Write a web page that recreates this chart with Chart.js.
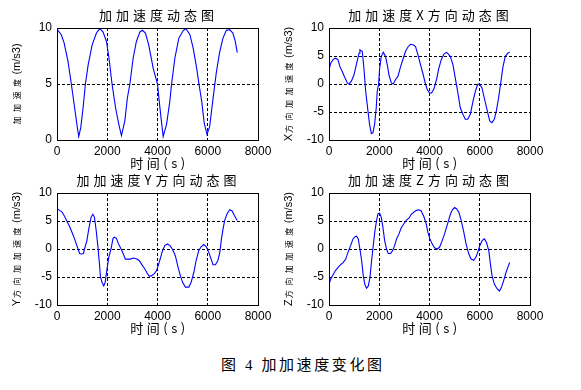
<!DOCTYPE html>
<html>
<head>
<meta charset="utf-8">
<script src="https://cdn.jsdelivr.net/npm/chart.js@4.4.1/dist/chart.umd.min.js"></script>
<style>
  html, body { margin: 0; padding: 0; background: #fff; }
  #page { position: relative; width: 581px; height: 390px; overflow: hidden; background: #fff; }
  .box { position: absolute; width: 290px; height: 170px; }
  #caption { position: absolute; left: 221px; top: 356px; font-size: 15px; line-height: 18px;
             font-family: "Liberation Serif", "Noto Sans CJK SC"; letter-spacing: 2.6px; white-space: nowrap; color: #000; }
</style>
</head>
<body>
<div id="page">
  <div class="box" style="left:0;top:0"><canvas id="cTotal" width="290" height="170"></canvas></div>
  <div class="box" style="left:272px;top:0"><canvas id="cX" width="290" height="170"></canvas></div>
  <div class="box" style="left:0;top:165px"><canvas id="cY" width="290" height="170"></canvas></div>
  <div class="box" style="left:272px;top:165px"><canvas id="cZ" width="290" height="170"></canvas></div>
  <div id="caption">图 4 加加速度变化图</div>
</div>
<script>
//Data (time in s, jerk in m/s3)
const tTotal = [0,170,280,440,570,700,810,865,945,1040,1130,1240,1400,1570,1700,1830,1970,2070,2190,2330,2460,2565,2700,2800,2900,3030,3160,3300,3400,3520,3650,3830,4000,4090,4225,4360,4490,4560,4690,4850,5020,5130,5290,5420,5560,5650,5760,5860,5970,6075,6205,6340,6470,6605,6740,6870,7000,7095,7175];
const vTotal = [9.9,9.4,8.7,7.0,5.0,2.9,1.1,0.3,1.1,2.9,5.0,6.7,8.5,9.55,9.95,9.65,8.8,7.3,5.0,2.9,1.4,0.4,1.7,3.75,5.0,7.3,8.8,9.65,9.8,9.55,8.5,6.4,5.0,3.0,0.3,1.4,3.45,5.0,7.3,9.1,9.75,9.95,9.4,8.2,6.4,5.0,3.45,1.5,0.5,1.2,3.6,6.0,7.8,9.1,9.8,9.85,9.55,8.8,7.8];

const tX = [0,65,170,265,360,435,530,625,730,795,890,995,1100,1195,1230,1325,1390,1460,1550,1615,1685,1750,1815,1880,1920,1975,2015,2080,2160,2250,2320,2385,2480,2555,2650,2745,2850,2955,3050,3155,3245,3350,3445,3540,3645,3750,3840,3910,4000,4080,4175,4280,4370,4465,4570,4665,4720,4830,4935,5025,5120,5225,5330,5425,5520,5625,5730,5825,5915,5995,6090,6180,6285,6395,6485,6580,6660,6750,6845,6925,7015,7110,7190];
const vX = [2.5,3.7,4.4,4.6,4.3,3.1,2.2,1.2,0.2,0,0.5,1.65,3.7,5.5,6.1,5.8,2.8,-1.3,-4.8,-7.2,-8.85,-8.7,-7.2,-4.25,-1.3,0,2.8,4.9,5.66,4.9,3.4,1.65,0.2,0,0.8,1.4,3.1,4.6,5.9,6.7,7.1,7.0,6.7,5.2,3.4,1.65,0,-1.0,-1.6,-1.6,-0.9,0.8,2.8,4.3,5.3,5.65,5.5,4.9,3.4,1.1,-1.3,-4.25,-5.4,-6.3,-6.3,-5.4,-3.1,-1.3,-0.1,0,-0.7,-2.5,-4.5,-6.6,-6.9,-6.3,-4.8,-2.5,0.5,3.1,4.9,5.5,5.65];

const tY = [0,105,200,305,410,500,595,700,790,900,965,1055,1095,1190,1265,1360,1425,1490,1560,1625,1690,1730,1795,1860,1915,1980,2060,2150,2230,2285,2365,2440,2550,2640,2720,2810,2915,3050,3180,3275,3365,3470,3575,3670,3760,3870,3960,4025,4105,4200,4290,4395,4500,4600,4710,4805,4910,5005,5110,5245,5335,5445,5535,5640,5735,5840,5945,6040,6135,6210,6305,6400,6480,6545,6610,6675,6770,6875,6970,7060,7170];
const vY = [7.2,6.9,6.6,5.8,4.8,4.0,3.0,1.8,0.6,-0.8,-0.9,-0.8,0,1.5,3.6,5.7,6.2,5.7,3.3,0.6,-2.7,-5.0,-6.0,-6.6,-6.0,-3.9,-1.5,0,1.9,2.1,1.9,1.0,0,-0.9,-1.8,-1.8,-1.8,-1.6,-1.8,-2.1,-2.7,-3.4,-4.2,-4.85,-4.8,-4.4,-3.9,-3.0,-1.8,-0.3,0.6,0.9,0.6,-0.1,-1.2,-3.0,-4.8,-6.0,-6.8,-6.8,-6.0,-4.2,-2.1,-0.3,0.4,0.8,0.4,-0.6,-1.8,-2.8,-2.8,-2.1,-0.6,1.8,3.6,5.1,6.3,7.0,6.8,6.0,5.1];

const tZ = [0,65,170,265,360,465,570,665,755,860,955,1035,1100,1165,1230,1300,1365,1430,1495,1565,1630,1695,1760,1830,1895,1950,2015,2080,2145,2215,2290,2360,2450,2530,2610,2690,2785,2875,2980,3075,3180,3275,3380,3485,3580,3670,3775,3870,3935,4015,4110,4200,4305,4400,4505,4600,4680,4760,4830,4910,5000,5075,5165,5260,5365,5455,5565,5655,5760,5855,5935,6000,6095,6185,6265,6360,6425,6490,6585,6690,6780,6860,6955,7045,7125,7190];
const vZ = [-6.3,-5.4,-4.5,-3.8,-3.3,-2.8,-2.4,-1.8,-0.6,0.6,1.8,2.2,2.3,1.8,0,-2.1,-4.8,-6.4,-7.0,-6.6,-5.1,-2.1,0.6,3.3,5.1,6.3,6.4,5.7,3.9,1.5,0,-0.8,-0.8,-0.3,0.6,1.8,2.7,3.8,4.5,5.1,5.5,6.2,6.6,6.9,7.0,6.8,5.8,4.5,3.0,1.8,0.9,0.2,0,0.3,1.5,2.7,3.9,5.1,6.2,7.0,7.4,7.2,6.6,5.1,3.0,0.9,-0.9,-1.8,-2.0,-1.4,-0.4,0.6,1.5,1.8,1.2,-0.3,-2.7,-4.8,-6.3,-7.1,-7.5,-6.9,-5.6,-4.2,-3.2,-2.4];

//Axis ticks, same for every panel on x
const xTicks = [0, 2000, 4000, 6000, 8000];
const yTicksTotal = [0, 5, 10];
const yTicksAxis = [-10, -5, 0, 5, 10];

//Panel texts
const titles = ['加加速度动态图', '加加速度X方向动态图', '加加速度Y方向动态图', '加加速度Z方向动态图'];
const yPrefix = ['', 'X', 'Y', 'Z'];
const xLabel = '时间(s)';

//MATLAB-ish look: closed box, centered title, x label and a rotated y label with tiny CJK glyphs
const matlabLook = {
  id: 'matlabLook',
  afterDraw(chart, args, opts) {
    const {ctx, chartArea: a} = chart;
    ctx.save();
    ctx.setLineDash([]);
    ctx.strokeStyle = '#000';
    ctx.lineWidth = 1;
    ctx.strokeRect(Math.round(a.left) + 0.5, Math.round(a.top) + 0.5, Math.round(a.right - a.left), Math.round(a.bottom - a.top));

    const cx = (a.left + a.right) / 2;
    ctx.fillStyle = '#000';
    ctx.textBaseline = 'middle';
    ctx.textAlign = 'center';
    ctx.font = '13px "Noto Sans CJK SC"';
    ctx.letterSpacing = '4px';
    ctx.fillText(opts.title, cx + 1, 15);
    ctx.letterSpacing = '3.5px';
    ctx.fillText(xLabel, cx + 2, 163);

    //rotated y label, built from pieces of different sizes
    const parts = [];
    if (opts.prefix) parts.push({text: opts.prefix, font: '11px "Liberation Sans"', ls: '1px'});
    parts.push({text: (opts.prefix ? '方向' : '') + '加加速度', font: '8px "Noto Sans CJK SC"', ls: '4.5px'});
    parts.push({text: '(m/s3)', font: '11px "Liberation Sans"', ls: '0px'});
    let total = 0;
    parts.forEach(p => {
      ctx.font = p.font; ctx.letterSpacing = p.ls;
      p.w = ctx.measureText(p.text).width;
      total += p.w;
    });
    ctx.translate(17, (a.top + a.bottom) / 2);
    ctx.rotate(-Math.PI / 2);
    ctx.textAlign = 'left';
    let x = -total / 2;
    parts.forEach(p => {
      ctx.font = p.font; ctx.letterSpacing = p.ls;
      ctx.fillText(p.text, x, 0);
      x += p.w;
    });
    ctx.restore();
  }
};

//edges are covered by the box, inner lines are dashed black
const gridColor = c => (c.index === 0 || c.index === c.scale.ticks.length - 1) ? 'rgba(0,0,0,0)' : '#000';
const tickFont = {family: '"Liberation Sans"', size: 12};

function makeChart(id, t, v, yTicks, title, prefix) {
  return new Chart(document.getElementById(id), {
    type: 'line',
    data: {
      datasets: [{
        data: t.map((x, i) => ({x: x, y: v[i]})),
        borderColor: '#0000ff',
        borderWidth: 1.1,
        pointRadius: 0,
        tension: 0,
        fill: false
      }]
    },
    options: {
      responsive: false,
      animation: false,
      layout: {padding: {top: 28, right: 32, left: 0, bottom: 0}},
      plugins: {
        legend: {display: false},
        tooltip: {enabled: false},
        matlabLook: {title: title, prefix: prefix}
      },
      scales: {
        x: {
          type: 'linear',
          min: xTicks[0],
          max: xTicks[xTicks.length - 1],
          afterBuildTicks: s => { s.ticks = xTicks.map(value => ({value})); },
          afterFit: s => { s.height = 30; },
          ticks: {color: '#000', font: tickFont, padding: 4, maxRotation: 0, autoSkip: false, callback: val => String(val)},
          grid: {color: gridColor, drawTicks: false, lineWidth: 1},
          border: {display: false, dash: [3, 2]}
        },
        y: {
          min: yTicks[0],
          max: yTicks[yTicks.length - 1],
          afterBuildTicks: s => { s.ticks = yTicks.map(value => ({value})); },
          afterFit: s => { s.width = 57; },
          ticks: {color: '#000', font: tickFont, padding: 5, autoSkip: false, callback: val => String(val)},
          grid: {color: gridColor, drawTicks: false, lineWidth: 1},
          border: {display: false, dash: [3, 2]}
        }
      }
    },
    plugins: [matlabLook]
  });
}

makeChart('cTotal', tTotal, vTotal, yTicksTotal, titles[0], yPrefix[0]);
makeChart('cX', tX, vX, yTicksAxis, titles[1], yPrefix[1]);
makeChart('cY', tY, vY, yTicksAxis, titles[2], yPrefix[2]);
makeChart('cZ', tZ, vZ, yTicksAxis, titles[3], yPrefix[3]);
</script>
</body>
</html>
